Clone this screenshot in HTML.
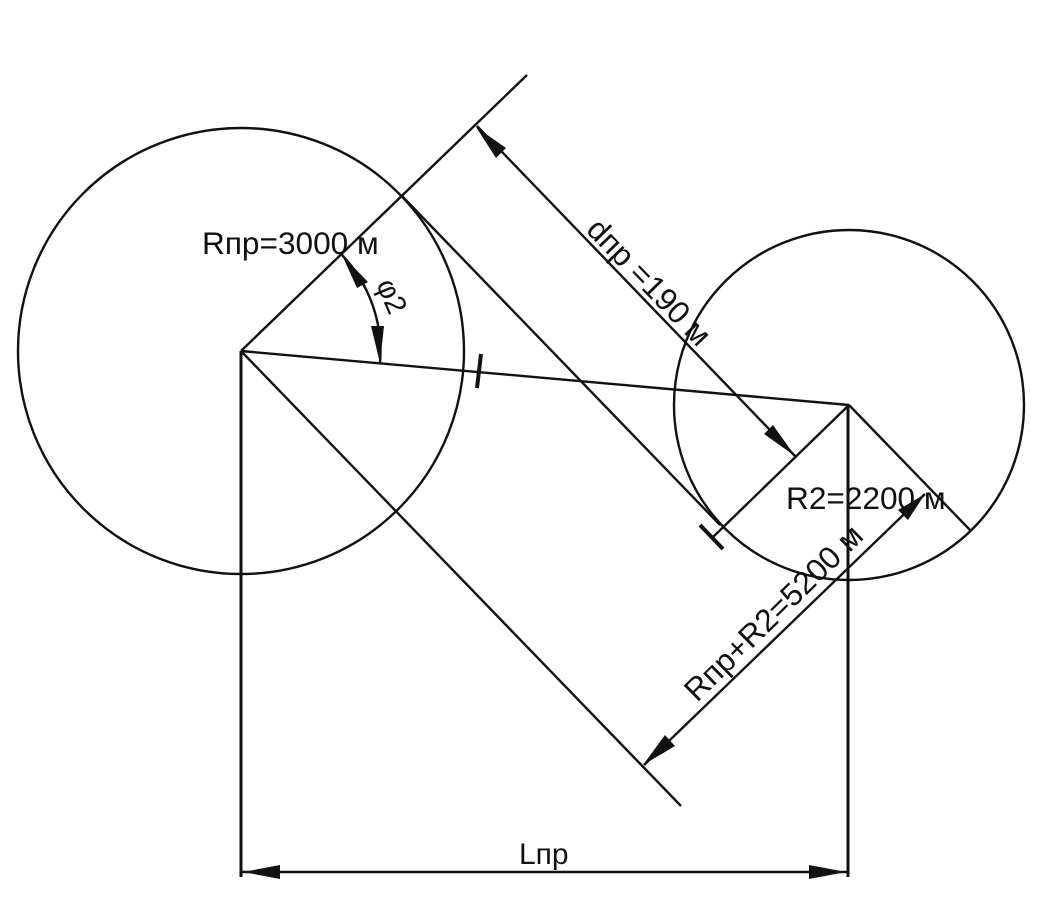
<!DOCTYPE html>
<html>
<head>
<meta charset="utf-8">
<style>
html,body{margin:0;padding:0;background:#fff}
svg{display:block}
text{font-family:"Liberation Sans",sans-serif;fill:#111;font-size:31.6px}
</style>
</head>
<body>
<svg width="1060" height="917" viewBox="0 0 1060 917" xmlns="http://www.w3.org/2000/svg">
<rect width="1060" height="917" fill="#fff"/>
<g fill="none" stroke="#111" stroke-width="2.4">
<circle cx="241" cy="351" r="223"/>
<circle cx="849" cy="405" r="175"/>
<line x1="241" y1="351" x2="527" y2="75"/>
<line x1="241" y1="351" x2="849" y2="405"/>
<line x1="241" y1="351" x2="681" y2="806"/>
<line x1="401" y1="195" x2="720" y2="525"/>
<line x1="849" y1="405" x2="712" y2="538"/>
<line x1="849" y1="405" x2="970" y2="530"/>
<line x1="477" y1="126" x2="795" y2="456"/>
<line x1="644" y1="765" x2="925" y2="494"/>
<line x1="242" y1="872" x2="848" y2="872"/>
<line x1="241" y1="351" x2="241" y2="877" stroke-width="3"/>
<line x1="848" y1="405" x2="848" y2="877" stroke-width="3"/>
<line x1="700" y1="525" x2="723" y2="549" stroke-width="4"/>
<line x1="481" y1="354" x2="477" y2="388" stroke-width="4"/>
<path d="M342 255 A140 140 0 0 1 380 363"/>
</g>
<g fill="#111">
<polygon points="476,127 506,148 496,158"/>
<polygon points="795,456 773,425 764,434"/>
<polygon points="643,765 665,735 675,746"/>
<polygon points="925,494 908,520 898,510"/>
<polygon points="243,872 280,865 280,879"/>
<polygon points="846,872 809,865 809,879"/>
<polygon points="342,255 368,282 357,288"/>
<polygon points="380,363 371,326 384,326"/>
</g>
<text x="202" y="254">Rпр=3000 м</text>
<text x="786" y="509">R2=2200 м</text>
<text x="519" y="864" style="font-size:30px">Lпр</text>
<text transform="translate(585,231) rotate(46)" xml:space="preserve">dпр =190 м</text>
<text transform="translate(697,703) rotate(-44.5)">Rпр+R2=5200 м</text>
<text transform="translate(376,284) rotate(67)" style="font-size:29px">φ2</text>
</svg>
</body>
</html>
